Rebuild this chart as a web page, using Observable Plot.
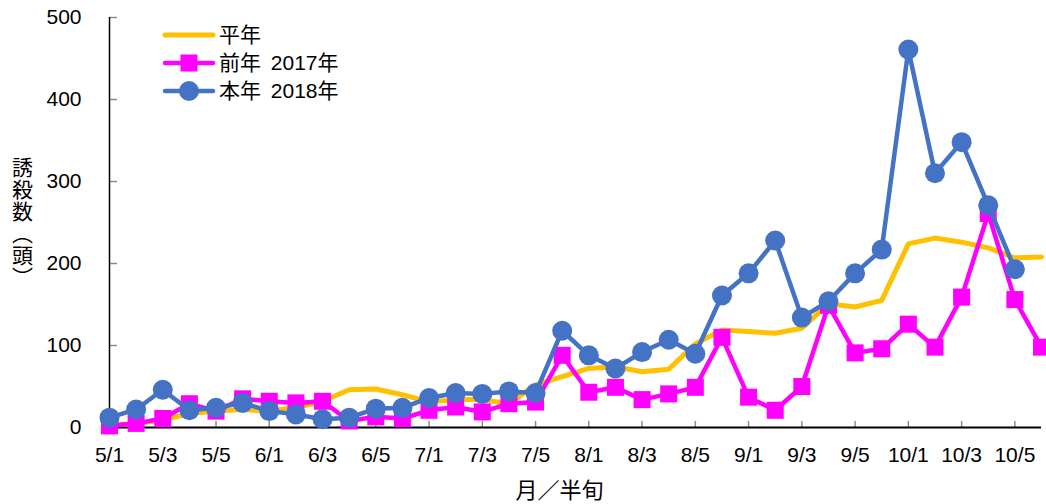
<!DOCTYPE html>
<html>
<head>
<meta charset="utf-8">
<script src="https://cdn.jsdelivr.net/npm/d3@7"></script>
<script src="https://cdn.jsdelivr.net/npm/@observablehq/plot@0.6"></script>
<style>
  html, body { margin: 0; padding: 0; background: #fff; }
  #chart svg { display: block; }
</style>
</head>
<body>
<div id="chart"></div>
<script>
const categories = ["5/1","5/2","5/3","5/4","5/5","5/6",
  "6/1","6/2","6/3","6/4","6/5","6/6",
  "7/1","7/2","7/3","7/4","7/5","7/6",
  "8/1","8/2","8/3","8/4","8/5","8/6",
  "9/1","9/2","9/3","9/4","9/5","9/6",
  "10/1","10/2","10/3","10/4","10/5","10/6"];
const tickLabels = ["5/1","5/3","5/5","6/1","6/3","6/5","7/1","7/3","7/5",
  "8/1","8/3","8/5","9/1","9/3","9/5","10/1","10/3","10/5"];
const yTicks = [0, 100, 200, 300, 400, 500];

const normalYear = [3, 5, 9, 17, 20, 22, 20, 24, 32, 46, 47, 40, 31, 34, 34, 29, 52, 62,
  72, 74, 68, 71, 102, 119, 117, 115, 121, 151, 147, 155, 224, 231, 226, 219, 207, 208];
const prevYear = [2, 5, 11, 29, 20, 35, 32, 30, 32, 8, 13, 11, 21, 25, 19, 29, 31, 88,
  43, 49, 34, 41, 49, 110, 37, 21, 50, 149, 91, 96, 126, 98, 159, 261, 156, 98];
const thisYear = [12, 22, 46, 21, 24, 30, 20, 16, 10, 12, 23, 24, 36, 42, 41, 44, 42, 118,
  88, 72, 92, 107, 90, 161, 188, 228, 134, 154, 188, 217, 461, 310, 348, 271, 193, null];

const seriesNames = ["平年", "前年 2017年", "本年 2018年"];
const seriesColors = ["#FFC000", "#FF00FF", "#4472C4"];
const seriesSymbols = [null, "square", "circle"];

const yTitle = "誘殺数（頭）";
const xTitle = "月／半旬";

const rows = s => categories.map((c, i) => ({x: c, y: s[i]}));
const normalRows = rows(normalYear);
const prevRows = rows(prevYear);
const thisRows = rows(thisYear).filter(d => d.y != null);

const font = "'Liberation Sans', 'Noto Sans CJK JP', sans-serif";
const cjk = "'Noto Sans CJK JP', sans-serif";
const tickGray = "#8c8c8c";

const chart = Plot.plot({
  width: 1046,
  height: 504,
  marginLeft: 109,
  marginRight: 5,
  marginTop: 17,
  marginBottom: 77,
  style: {fontFamily: font, fontSize: "20px", background: "#fff", color: "#000"},
  x: {type: "point", domain: categories, padding: 0, inset: 0, round: false, axis: null},
  y: {domain: [0, 500], axis: null},
  marks: [
    Plot.axisY({ticks: yTicks, tickSize: 0, tickPadding: 28, fontSize: 21, label: null}),
    Plot.axisX({ticks: tickLabels, tickSize: 0, tickPadding: 20, fontSize: 21, label: null}),
    Plot.tickX(tickLabels, {x: d => d, insetTop: 404, stroke: tickGray, strokeWidth: 1.5}),
    Plot.tickY(yTicks, {y: d => d, insetRight: 924, stroke: tickGray, strokeWidth: 1.5}),
    Plot.ruleY([0], {stroke: "#000", strokeWidth: 2}),
    Plot.ruleX([categories[0]], {stroke: "#000", strokeWidth: 1.5}),
    Plot.line(normalRows, {x: "x", y: "y", stroke: seriesColors[0], strokeWidth: 5}),
    Plot.line(prevRows, {x: "x", y: "y", stroke: seriesColors[1], strokeWidth: 4.5}),
    Plot.dot(prevRows, {x: "x", y: "y", symbol: "square", r: 9.6, fill: seriesColors[1], stroke: "none"}),
    Plot.line(thisRows, {x: "x", y: "y", stroke: seriesColors[2], strokeWidth: 4.5}),
    Plot.dot(thisRows, {x: "x", y: "y", symbol: "circle", r: 10, fill: seriesColors[2], stroke: "none"}),
    Plot.text([xTitle], {
      frameAnchor: "bottom", dx: -16, dy: 63, textAnchor: "middle", lineAnchor: "middle",
      fontSize: 22, fontFamily: cjk, fill: "#000"
    })
  ]
});

const svg = d3.select(chart);

// Vertical y-axis title
svg.append("text")
  .attr("x", 22.5).attr("y", 223)
  .attr("text-anchor", "middle")
  .attr("font-family", cjk).attr("font-size", 21).attr("fill", "#000")
  .style("writing-mode", "vertical-rl")
  .style("letter-spacing", "1px")
  .text(yTitle);

// Legend (inside plot, upper left)
const lg = svg.append("g").attr("class", "legend");
seriesNames.forEach((name, i) => {
  const y = 35 + i * 28;
  const g = lg.append("g");
  g.append("line").attr("x1", 165).attr("x2", 213).attr("y1", y).attr("y2", y)
    .attr("stroke", seriesColors[i]).attr("stroke-width", i === 0 ? 5 : 4.5)
    .attr("stroke-linecap", "round");
  if (seriesSymbols[i] === "square") {
    g.append("rect").attr("x", 189 - 8.5).attr("y", y - 8.5).attr("width", 17).attr("height", 17)
      .attr("fill", seriesColors[i]);
  } else if (seriesSymbols[i] === "circle") {
    g.append("circle").attr("cx", 189).attr("cy", y).attr("r", 10).attr("fill", seriesColors[i]);
  }
  g.append("text").attr("x", 219).attr("y", y).attr("dy", "0.35em")
    .attr("text-anchor", "start")
    .style("word-spacing", "4px")
    .attr("font-size", 21).attr("font-family", font).attr("fill", "#000").text(name);
});

document.getElementById("chart").appendChild(chart);
</script>
</body>
</html>
